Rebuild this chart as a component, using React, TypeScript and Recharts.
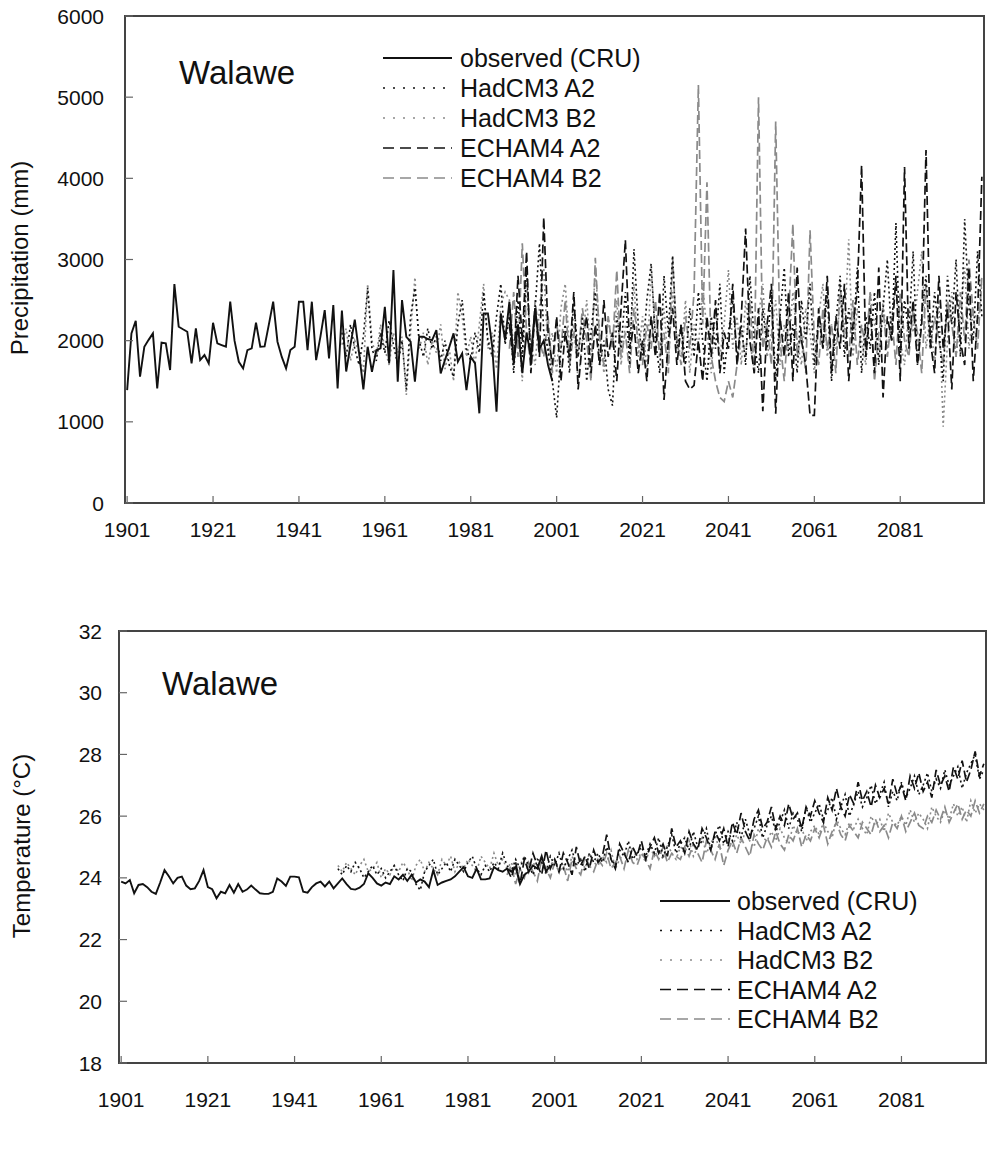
import React from 'react';
import { LineChart, Line, XAxis, YAxis, ReferenceArea } from 'recharts';

const FONT = '"Liberation Sans", Arial, sans-serif';

const xTicks = [1901, 1921, 1941, 1961, 1981, 2001, 2021, 2041, 2061, 2081];
const precipTicks = [0, 1000, 2000, 3000, 4000, 5000, 6000];
const tempTicks = [18, 20, 22, 24, 26, 28, 30, 32];
const seriesNames = ['observed (CRU)', 'HadCM3 A2', 'HadCM3 B2', 'ECHAM4 A2', 'ECHAM4 B2'];

// observed starts 1901, HadCM3 starts 1951, ECHAM4 starts 1990
const OBS_START = 1901;
const HAD_START = 1951;
const ECH_START = 1990;

// precipitation (mm)
const obsPrecip = [
  1390, 2090, 2245, 1556, 1925, 2010, 2090, 1412, 1975, 1966,
  1638, 2697, 2172, 2140, 2110, 1720, 2151, 1761, 1823, 1720,
  2221, 1966, 1945, 1925, 2480, 2000, 1740, 1658, 1884, 1905,
  2221, 1925, 1930, 2200, 2480, 1987, 1800, 1658, 1884, 1925,
  2480, 2480, 1884, 2480, 1761, 2050, 2377, 1782, 2438, 1412,
  2370, 1620, 1950, 2260, 1850, 1400, 1925, 1617, 1884, 1905,
  2418, 1720, 2870, 1494, 2500, 2048, 1987, 1494, 2048, 2048,
  2020, 2007, 2130, 1597, 1761, 1920, 2090, 1740, 1843, 1392,
  1802, 1720, 1105, 2336, 2336, 1925, 1125, 2336, 2007, 2480,
  1720, 2200, 1600, 2100, 1800, 2400, 1900, 2000, 1700, 1500,
];

const hadA2Precip = [
  2100, 1800, 2200, 1900, 1700, 2050, 2650, 1900, 1750, 2100,
  1850, 2250, 1950, 1700, 2000, 1400, 2300, 2650, 2000, 1800,
  2150, 1900, 2050, 1750, 2000, 1700, 1550, 2200, 2500, 1900,
  1750, 2100, 1850, 2600, 2000, 1800, 2300, 2700, 1950,
  2300, 1600, 2500, 1800, 2900, 1700, 2400, 3200, 2100, 1900,
  1500, 1050, 1900, 2200, 1600, 2500, 1800, 2300, 1500, 2100,
  2600, 1700, 2000, 1400, 1200, 2300, 1900, 2600, 1700, 3130,
  2200, 1800, 2500, 2950, 2000, 1600, 2800, 2100, 3050, 1900,
  2200, 1700, 2400, 1800, 2600, 2000, 1500, 2300, 1900, 2700,
  1600, 2100, 2500, 1800, 2200, 1700, 2800, 2000, 1600, 2400,
  1900, 2600, 1500, 2300, 2900, 1800, 2200, 1600, 2500, 2000,
  2700, 1700, 2300, 1900, 2600, 1500, 2200, 2800, 1800, 2400,
  2000, 2900, 1600, 2300, 1900, 2600, 1700, 2400, 3000, 2000,
  3450, 1800, 2500, 2100, 3100, 1700, 2300, 2800, 1900, 2600,
  2100, 1500, 2800, 2200, 3000, 1800, 3500, 2400, 2000, 3100,
  2300,
];

const hadB2Precip = [
  1950, 2150, 1750, 2000, 1850, 1600, 2700, 2000, 1800, 2200,
  1900, 1700, 2100, 1850, 2050, 1330, 2100, 2780, 1900, 2100,
  1700, 2000, 1850, 2200, 1650, 1900, 1500, 2600, 2300, 1800,
  2050, 1700, 2200, 2700, 1900, 2100, 1650, 2450, 2600,
  2500, 1900, 2200, 1500, 2700, 2000, 1700, 2400, 2900, 1800,
  2100, 1600, 2400, 2700, 1900, 2200, 1500, 2000, 2500, 1800,
  2900, 2100, 1600, 2300, 1900, 2500, 1700, 2200, 2000, 2700,
  1800, 2300, 1600, 2900, 2100, 1900, 2400, 1700, 2600, 2000,
  1800, 2500, 1600, 2200, 1900, 2700, 2100, 1600, 2400, 1800,
  2200, 2870, 1900, 2300, 1700, 2500, 2000, 1600, 2300, 2700,
  1800, 2100, 2500, 1700, 2200, 1900, 2600, 2000, 1700, 2400,
  2100, 1600, 2300, 2700, 1800, 2200, 1900, 2500, 2100, 3250,
  1800, 2400, 2000, 1700, 2600, 2200, 1800, 2500, 1900, 2300,
  2700, 2000, 1700, 2400, 2100, 2600, 3100, 1900, 2300, 1700,
  2500, 940, 2000, 2600, 1800, 2300, 2900, 1900, 2400, 2200,
  2700,
];

const echA2Precip = [
  2200, 1700, 2800, 2000, 3100, 1600, 2400, 1800, 3520, 2100,
  1700, 2300, 1500, 2100, 1800, 2600, 1400, 2000, 2300, 1600,
  2200, 1700, 2500, 1800, 2100, 1500, 2400, 3240, 1900, 2200,
  1600, 2000, 1500, 2300, 1800, 2600, 1270, 2000, 2400, 1700,
  2200, 1500, 1400, 1450, 2000, 1500, 2300, 1800, 2500, 1600,
  2100, 1900, 2700, 1700, 2300, 3380, 2000, 1600, 2400, 1130,
  2200, 2700, 1100, 2300, 1800, 2600, 1500, 2900, 2000, 1700,
  1080, 1080, 2400, 1900, 2800, 1600, 2300, 1900, 2700, 1500,
  2200, 2600, 4160, 1800, 2400, 1600, 2900, 1300, 2300, 2000,
  2800, 1500, 4140, 1900, 2500, 1700, 2200, 4350, 2000, 1600,
  2800, 1900, 2400, 1400, 2600, 2000, 1700, 2900, 1500, 2300,
  4020,
];

const echB2Precip = [
  1900, 2600, 1800, 3200, 2100, 1700, 2500, 2000, 1800, 2300,
  1600, 2200, 1900, 2500, 1700, 2100, 1800, 2400, 2000, 1500,
  3020, 2000, 1700, 2300, 1900, 2870, 1800, 2100, 1600, 2400,
  2000, 1700, 2200, 1900, 2500, 1800, 2100, 1600, 3020, 2000,
  1700, 2300, 1900, 2600, 5150, 2200, 3950, 1800, 1500, 1300,
  1250, 1500, 1300, 1700, 2100, 1800, 2500, 1600, 5000, 1900,
  2200, 1700, 4700, 2000, 1500, 2300, 3440, 1800, 2100, 1600,
  3360, 2000, 1700, 2400, 1900, 2200, 1600, 2700, 2000, 1800,
  2500, 1700, 2200, 1900, 2600, 1500, 2100, 2400, 1800, 2300,
  1700, 2600, 2000, 1800, 2400, 2100, 1600, 2700, 1900, 2300,
  2000, 1700, 2500, 2200, 1800, 2600, 2000, 3000, 2300, 1900,
  2800,
];

// temperature (°C)
const obsTemp = [
  23.88, 23.82, 23.93, 23.5, 23.77, 23.8, 23.7, 23.55, 23.48, 23.85,
  24.25, 24.05, 23.82, 24.0, 24.04, 23.75, 23.63, 23.66, 23.9, 24.25,
  23.7, 23.63, 23.34, 23.55, 23.5, 23.77, 23.52, 23.8, 23.55, 23.62,
  23.75, 23.62, 23.5, 23.48, 23.48, 23.55, 23.98, 23.88, 23.74, 24.04,
  24.04, 24.02, 23.55, 23.52, 23.7, 23.82, 23.88, 23.72, 23.88, 23.66,
  23.82, 23.98, 23.8, 23.64, 23.62, 23.68, 23.8, 24.15, 24.0, 23.82,
  23.75, 23.85, 23.8, 24.05, 23.95, 24.1, 23.9, 24.1, 23.85, 23.95,
  23.88, 23.7, 24.25, 23.77, 23.85, 23.9, 23.95, 24.05, 24.2, 24.35,
  24.05, 24.0, 24.3, 23.95, 23.95, 23.98, 24.35, 24.25, 24.2, 24.3,
  24.2, 24.35, 23.8, 24.1, 24.2, 24.4, 24.3, 24.7, 24.2, 24.4,
];

const hadA2Temp = [
  24.3, 24.1, 24.4, 24.2, 24.5, 24.3, 24.0, 24.2, 24.4, 24.1,
  24.3, 24.0, 24.2, 24.4, 24.1, 23.9, 24.3, 24.2, 23.8, 23.6,
  24.2, 24.4, 24.6, 24.1, 24.3, 24.5, 24.2, 24.6, 24.4, 24.2,
  24.5, 24.7, 24.3, 24.1, 24.4, 24.2, 24.5, 24.3, 24.8, 24.4,
  24.2, 24.6, 24.3, 24.7, 24.4, 24.1, 24.6, 24.5, 24.2, 24.7,
  24.4, 24.8, 24.3, 24.6, 24.9, 24.4, 24.6, 24.2, 24.8, 24.5,
  24.8, 24.5, 25.0, 24.6, 24.4, 24.9, 24.7, 25.2, 24.6, 24.8,
  25.0, 24.7, 25.1, 24.8, 25.3, 24.7, 25.0, 25.4, 24.8, 25.1,
  25.3, 24.9, 25.5, 25.0, 25.2, 25.6, 24.9, 25.4, 25.7, 25.1,
  25.5, 25.2, 25.8, 25.3, 25.9, 25.4, 25.6, 26.0, 25.3, 25.7,
  26.0, 25.5, 25.8, 26.2, 25.6, 26.1, 25.9, 25.5, 26.3, 25.8,
  26.1, 26.4, 25.9, 26.2, 26.6, 25.9, 26.3, 26.7, 26.0, 26.4,
  26.8, 26.3, 26.6, 27.0, 26.4, 26.7, 27.1, 26.3, 26.8, 26.5,
  27.1, 26.6, 26.9, 27.3, 26.7, 27.0, 27.4, 26.8, 27.2, 26.9,
  27.5, 27.0, 27.3, 27.6, 26.9, 27.4, 27.7, 28.0, 27.2, 27.5,
];

const hadB2Temp = [
  24.4, 24.2, 24.5, 24.3, 24.1, 24.4, 24.6, 24.2, 24.3, 24.5,
  24.0, 24.3, 24.1, 24.4, 24.2, 24.5, 24.3, 23.9, 24.4, 24.6,
  24.2, 24.5, 24.3, 24.1, 24.6, 24.4, 24.7, 24.2, 24.5, 24.3,
  24.6, 24.4, 24.2, 24.7, 24.5, 24.3, 24.8, 24.4, 24.6, 24.3,
  24.5, 24.1, 24.4, 24.7, 24.2, 24.5, 24.3, 24.6, 24.1, 24.4,
  24.6, 24.3, 24.5, 24.2, 24.7, 24.4, 24.6, 24.3, 24.8, 24.5,
  24.4, 24.7, 24.5, 24.9, 24.3, 24.6, 24.8, 24.5, 25.0, 24.6,
  24.8, 24.5, 25.0, 24.7, 24.9, 24.6, 25.1, 24.8, 24.6, 25.0,
  24.9, 25.2, 24.7, 25.0, 25.3, 24.8, 25.1, 25.4, 24.9, 25.1,
  25.3, 25.0, 25.4, 25.1, 25.5, 25.2, 25.0, 25.6, 25.3, 25.2,
  25.5, 25.2, 25.6, 25.3, 25.1, 25.7, 25.4, 25.6, 25.2, 25.5,
  25.7, 25.4, 25.8, 25.5, 25.3, 25.9, 25.6, 25.4, 25.8, 25.6,
  25.9, 25.6, 25.4, 26.0, 25.7, 25.9, 25.5, 26.1, 25.8, 25.7,
  26.0, 25.7, 26.2, 25.8, 26.1, 25.9, 25.6, 26.3, 26.0, 25.8,
  26.2, 25.9, 26.4, 26.0, 26.3, 25.8, 26.5, 26.1, 26.4, 26.2,
];

const echA2Temp = [
  24.3, 24.0, 24.5, 23.8, 24.6, 24.2, 24.8, 24.4, 24.1, 24.9,
  24.3, 24.6, 24.2, 24.8, 24.5, 24.1, 25.0, 24.4, 24.7, 24.3,
  24.9, 24.5, 24.7, 25.4, 24.6, 24.3, 25.1, 24.8, 24.5, 25.0,
  24.7, 25.2, 24.6, 25.0, 25.3, 24.8, 25.1, 24.7, 25.6, 25.0,
  25.2, 24.8, 25.5, 25.1, 24.9, 25.6, 25.3, 24.9, 25.5, 25.2,
  25.6, 25.0, 25.8, 25.4, 26.1, 25.5, 25.2, 25.9, 26.2, 25.6,
  25.8, 26.3, 25.6, 26.0, 25.7, 26.4, 25.9, 26.1, 25.6, 26.3,
  26.0, 26.5, 26.1, 25.8, 26.6, 26.2, 26.9, 26.3, 26.0, 26.7,
  26.4, 27.1, 26.5, 26.8, 26.3, 27.0, 26.6, 26.9, 26.4, 27.2,
  26.7, 27.0, 26.5, 27.3, 26.9, 27.4, 26.8, 27.1, 26.6, 27.5,
  27.0, 27.3, 26.8, 27.6, 27.2, 27.8, 27.1, 27.5, 28.1, 27.3,
  27.7,
];

const echB2Temp = [
  24.1, 24.4, 23.8, 24.3, 24.0, 24.5, 24.2, 23.9, 24.6, 24.3,
  24.0, 24.5, 24.2, 24.4, 23.9, 24.6, 24.3, 24.1, 24.7, 24.4,
  24.2, 24.6, 24.4, 24.8, 24.3, 24.5, 24.7, 24.3, 24.9, 24.5,
  24.4, 24.8, 24.6, 24.3, 24.9, 24.6, 25.0, 24.5, 24.8, 24.7,
  24.6, 25.0, 24.7, 25.1, 24.8, 24.5, 25.2, 24.9, 24.6, 25.1,
  24.4, 24.9, 25.2, 24.8, 25.3, 25.0, 24.7, 25.4, 25.1, 24.9,
  25.3, 25.0, 25.5, 25.1, 24.9, 25.4, 25.2, 25.6, 25.0, 25.4,
  25.2, 25.6, 25.3, 25.7, 25.1, 25.5, 25.8, 25.4, 25.2, 25.7,
  25.5, 25.3, 25.8, 25.6, 25.4, 25.9, 25.5, 25.7, 25.3, 25.8,
  25.6, 26.0, 25.5, 25.8, 26.1, 25.7, 25.6, 26.0, 25.8, 26.2,
  25.9, 26.3, 25.8, 26.1, 26.4, 25.9, 26.2, 26.0, 26.5, 26.1,
  26.4,
];

type Style = { key: string; color: string; dash?: string; width: number };
const lineStyles: Style[] = [
  { key: 'obs', color: '#111', width: 1.9 },
  { key: 'hadA2', color: '#111', dash: '2 3', width: 1.6 },
  { key: 'hadB2', color: '#8a8a8a', dash: '2 3', width: 1.6 },
  { key: 'echA2', color: '#111', dash: '9 4', width: 1.7 },
  { key: 'echB2', color: '#8a8a8a', dash: '9 4', width: 1.7 },
];
// drawing order: grey first, observed last
const drawOrder = ['hadB2', 'echB2', 'hadA2', 'echA2', 'obs'];

function makeRows(series: { key: string; start: number; values: number[] }[]) {
  const rows: any[] = [];
  for (let year = 1901; year <= 2100; year++) {
    const row: any = { year };
    series.forEach((s) => {
      const v = s.values[year - s.start];
      row[s.key] = v === undefined ? null : v;
    });
    rows.push(row);
  }
  return rows;
}

const precipRows = makeRows([
  { key: 'obs', start: OBS_START, values: obsPrecip },
  { key: 'hadA2', start: HAD_START, values: hadA2Precip },
  { key: 'hadB2', start: HAD_START, values: hadB2Precip },
  { key: 'echA2', start: ECH_START, values: echA2Precip },
  { key: 'echB2', start: ECH_START, values: echB2Precip },
]);

const tempRows = makeRows([
  { key: 'obs', start: OBS_START, values: obsTemp },
  { key: 'hadA2', start: HAD_START, values: hadA2Temp },
  { key: 'hadB2', start: HAD_START, values: hadB2Temp },
  { key: 'echA2', start: ECH_START, values: echA2Temp },
  { key: 'echB2', start: ECH_START, values: echB2Temp },
]);

const makeXTick = (labelDy: number) => (props: any) => {
  const { x, y, payload } = props;
  return (
    <g>
      <line x1={x} x2={x} y1={y} y2={y - 7} stroke="#666" strokeWidth={1.2} />
      <text x={x} y={y + labelDy} textAnchor="middle" fontSize={21} fontFamily={FONT} fill="#111">
        {payload.value}
      </text>
    </g>
  );
};

const makeYTick = (gap: number) => (props: any) => {
  const { x, y, payload } = props;
  return (
    <g>
      <line x1={x} x2={x + 8} y1={y} y2={y} stroke="#666" strokeWidth={1.2} />
      <text x={x - gap} y={y + 7.5} textAnchor="end" fontSize={21} fontFamily={FONT} fill="#111">
        {payload.value}
      </text>
    </g>
  );
};

function LegendBox({ x1, x2, tx, y0, step }: { x1: number; x2: number; tx: number; y0: number; step: number }) {
  return (
    <g>
      {seriesNames.map((name, i) => {
        const st = lineStyles[i];
        const y = y0 + i * step;
        return (
          <g key={name}>
            <line x1={x1} x2={x2} y1={y} y2={y} stroke={st.color} strokeWidth={st.key === 'obs' ? 2 : 1.7}
              strokeDasharray={st.dash ? (st.dash === '2 3' ? '2 8' : '11 6') : undefined} />
            <text x={tx} y={y + 9} fontSize={25} fontFamily={FONT} fill="#111">{name}</text>
          </g>
        );
      })}
    </g>
  );
}

function Panel(props: {
  rows: any[]; width: number; height: number; margin: any; yDomain: number[]; yTicks: number[];
  yWidth: number; xHeight: number; xLabelDy: number; yGap: number;
}) {
  const { rows, width, height, margin, yDomain, yTicks, yWidth, xHeight, xLabelDy, yGap } = props;
  return (
    <LineChart width={width} height={height} data={rows} margin={margin}>
      <XAxis type="number" dataKey="year" domain={[1900.5, 2100.5]} ticks={xTicks} interval={0}
        axisLine={false} tickSize={0} tickMargin={0} height={xHeight} tick={makeXTick(xLabelDy)} allowDataOverflow />
      <YAxis type="number" domain={yDomain} ticks={yTicks} interval={0} axisLine={false}
        tickSize={0} tickMargin={0} width={yWidth} tick={makeYTick(yGap)} allowDataOverflow />
      <ReferenceArea x1={1900.5} x2={2100.5} y1={yDomain[0]} y2={yDomain[1]} fill="#fff" fillOpacity={0}
        stroke="#444" strokeWidth={2} ifOverflow="visible" />
      {drawOrder.map((k) => {
        const st = lineStyles.find((s) => s.key === k)!;
        return (
          <Line key={k} type="linear" dataKey={k} stroke={st.color} strokeWidth={st.width}
            strokeDasharray={st.dash} dot={false} activeDot={false} connectNulls={false}
            isAnimationActive={false} />
        );
      })}
    </LineChart>
  );
}

export default function App() {
  return (
    <div style={{ position: 'absolute', left: 0, top: 0, width: 987, height: 1176, background: '#fff', fontFamily: FONT }}>
      <div style={{ position: 'absolute', left: 0, top: 0 }}>
        <Panel rows={precipRows} width={987} height={560} margin={{ top: 16, right: 3, bottom: 0, left: 0 }}
          yDomain={[0, 6000]} yTicks={precipTicks} yWidth={125} xHeight={57} xLabelDy={34} yGap={21} />
      </div>
      <div style={{ position: 'absolute', left: 0, top: 590 }}>
        <Panel rows={tempRows} width={987} height={586} margin={{ top: 41, right: 1, bottom: 0, left: 0 }}
          yDomain={[18, 32]} yTicks={tempTicks} yWidth={119} xHeight={113} xLabelDy={44} yGap={17} />
      </div>
      <svg width={987} height={1176} style={{ position: 'absolute', left: 0, top: 0, pointerEvents: 'none' }}>
        <text x={179} y={84} fontSize={33} fontFamily={FONT} fill="#111">Walawe</text>
        <text x={162} y={695} fontSize={33} fontFamily={FONT} fill="#111">Walawe</text>
        <text transform="translate(28,258) rotate(-90)" textAnchor="middle" fontSize={24} fontFamily={FONT} fill="#111">
          Precipitation (mm)
        </text>
        <text transform="translate(30,846) rotate(-90)" textAnchor="middle" fontSize={24} fontFamily={FONT} fill="#111">
          Temperature (°C)
        </text>
        <LegendBox x1={383} x2={452} tx={460} y0={58} step={30} />
        <LegendBox x1={660} x2={730} tx={737} y0={901} step={29.5} />
      </svg>
    </div>
  );
}
